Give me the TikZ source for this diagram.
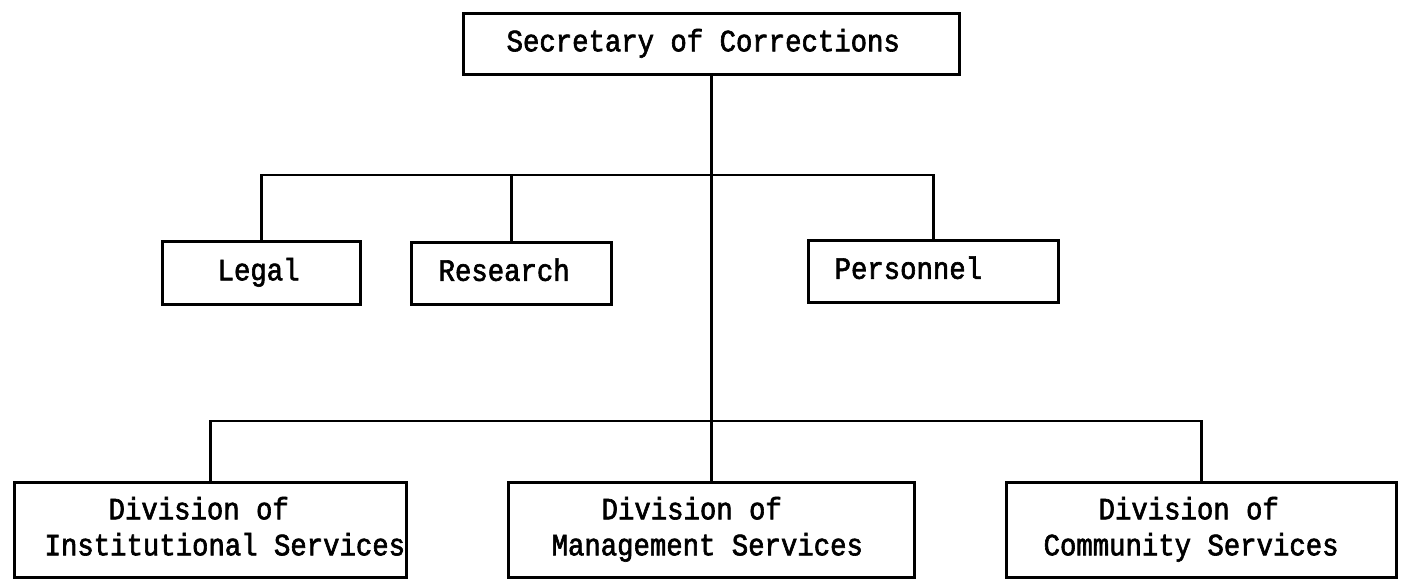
\documentclass[tikz,border=0pt]{standalone}
\usepackage{fontspec}
\setmainfont{Liberation Mono}[FakeBold=2,FakeStretch=0.881]
\newcommand\typewriterfont{\fontsize{31}{36}\selectfont}
\newcommand\gap{\hspace{16.38pt}}
\begin{document}
\begin{tikzpicture}[x=1pt,y=-1pt]
\tikzset{
  box/.style={draw, line width=3.2pt, rectangle, inner xsep=0pt, inner ysep=0pt,
    align=left, anchor=north west, font=\typewriterfont},
  link/.style={line width=2.7pt},
}
\useasboundingbox (0,0) rectangle (1410,579);
\node[box, text width=496pt, minimum height=61pt] (sec) at (462,12) {\strut\hspace*{43pt}Secretary\gap of\gap Corrections};
\node[box, text width=198pt, minimum height=63pt] (legal) at (161,240) {\strut\hspace*{55pt}Legal};
\node[box, text width=200pt, minimum height=62pt] (research) at (410,241) {\strut\hspace*{27pt}Research};
\node[box, text width=250pt, minimum height=62pt] (personnel) at (807,239) {\strut\hspace*{26pt}Personnel};
\node[box, text width=392pt, minimum height=95pt] (inst) at (13,481) {\strut\hspace*{94pt}Division\gap of\\\strut\hspace*{30pt}Institutional\gap Services};
\node[box, text width=406pt, minimum height=95pt] (mgmt) at (507,481) {\strut\hspace*{93pt}Division\gap of\\\strut\hspace*{43pt}Management\gap Services};
\node[box, text width=390pt, minimum height=95pt] (comm) at (1005,481) {\strut\hspace*{92pt}Division\gap of\\\strut\hspace*{37pt}Community\gap Services};
\coordinate (ubus) at (710,175);
\coordinate (lbus) at (710,421);
\draw[link] (sec.south) -- (mgmt.north);
\draw[link] (legal.north) |- (personnel.north |- ubus) -- (personnel.north);
\draw[link] (research.north) -- (research.north |- ubus);
\draw[link] (inst.north) |- (comm.north |- lbus) -- (comm.north);
\end{tikzpicture}
\end{document}
